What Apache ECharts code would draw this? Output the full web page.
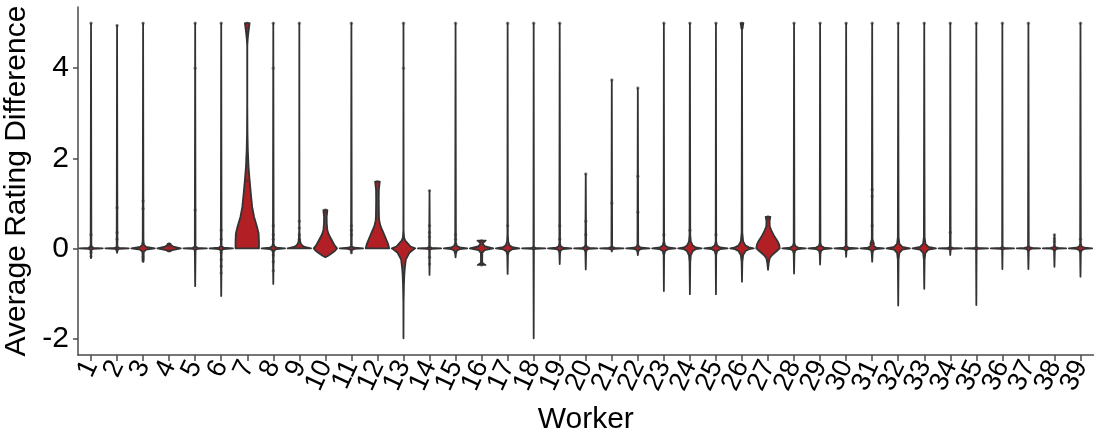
<!DOCTYPE html>
<html>
<head>
<meta charset="utf-8">
<script src="https://cdn.jsdelivr.net/npm/echarts@6/dist/echarts.min.js"></script>
<style>
  html, body { margin: 0; padding: 0; background: #fff; }
  #chart { width: 1095px; height: 433px; }
</style>
</head>
<body>
<div id="chart"></div>
<script>
// Worker ids shown on the x axis
const workers = ['1','2','3','4','5','6','7','8','9','10','11','12','13','14','15','16','17','18','19','20',
                 '21','22','23','24','25','26','27','28','29','30','31','32','33','34','35','36','37','38','39'];

// Y axis tick values
const yTicks = [-2, 0, 2, 4];

// Violin outlines per worker: [rating difference, relative density (1 = widest)], from min to max
const violinProfiles = [
  [[-0.22,0],[-0.04,0.03],[-0.01,0.2],[0,1],[0.01,0.2],[0.04,0.03],[5,0]],
  [[-0.1,0],[-0.03,0.03],[-0.01,0.2],[0,1],[0.01,0.2],[0.03,0.03],[4.95,0]],
  [[-0.3,0],[-0.2,0.04],[-0.08,0.06],[-0.03,0.25],[0,1],[0.03,0.25],[0.08,0.06],[0.2,0.03],[5,0]],
  [[-0.07,0.05],[-0.04,0.25],[0,1],[0.04,0.35],[0.07,0.15],[0.1,0.12]],
  [[-0.84,0],[-0.04,0.03],[-0.01,0.2],[0,1],[0.01,0.2],[0.04,0.03],[5,0]],
  [[-1.06,0],[-0.05,0.03],[-0.015,0.2],[0,1],[0.015,0.2],[0.05,0.03],[5,0]],
  [[0,1],[0.15,1],[0.33,0.97],[0.48,0.83],[0.7,0.58],[0.92,0.42],[1.23,0.3],[1.52,0.2],[1.81,0.11],[2.18,0.05],[2.56,0.02],[3.2,0.005],[4.5,0.005],[4.65,0.04],[4.8,0.1],[5,0.2]],
  [[-0.79,0],[-0.1,0.03],[-0.04,0.1],[-0.015,0.3],[0,1],[0.015,0.3],[0.04,0.1],[0.1,0.03],[5,0]],
  [[0,1],[0.03,0.45],[0.07,0.22],[0.12,0.1],[0.2,0.04],[0.4,0.01],[5,0]],
  [[-0.2,0],[-0.17,0.2],[-0.11,0.55],[-0.05,0.85],[0,1],[0.06,0.8],[0.18,0.55],[0.3,0.3],[0.4,0.17],[0.55,0.12],[0.7,0.11],[0.8,0.15],[0.85,0.17]],
  [[-0.1,0],[-0.04,0.03],[-0.012,0.25],[0,1],[0.012,0.25],[0.04,0.03],[5,0]],
  [[0,1],[0.1,0.9],[0.19,0.76],[0.33,0.53],[0.48,0.28],[0.6,0.16],[0.7,0.13],[1.07,0.11],[1.3,0.12],[1.4,0.16],[1.48,0.2]],
  [[-2.0,0],[-1.2,0.01],[-0.8,0.04],[-0.6,0.07],[-0.45,0.11],[-0.25,0.2],[-0.1,0.5],[-0.03,0.85],[0,1],[0.04,0.6],[0.1,0.4],[0.17,0.15],[0.24,0.05],[0.4,0.01],[5,0]],
  [[-0.59,0],[-0.03,0.03],[-0.01,0.2],[0,1],[0.01,0.2],[0.03,0.03],[1.28,0]],
  [[-0.2,0],[-0.12,0.03],[-0.05,0.12],[-0.02,0.35],[0,1],[0.02,0.35],[0.05,0.12],[0.12,0.03],[5,0]],
  [[-0.37,0.33],[-0.34,0.12],[-0.3,0.05],[-0.1,0.06],[-0.04,0.25],[0,1],[0.04,0.3],[0.09,0.1],[0.13,0.15],[0.17,0.35]],
  [[-0.57,0],[-0.15,0.03],[-0.07,0.1],[-0.025,0.35],[0,1],[0.025,0.4],[0.07,0.15],[0.15,0.05],[0.3,0.02],[5,0]],
  [[-2.0,0],[-0.03,0.02],[-0.01,0.15],[0,1],[0.01,0.15],[0.03,0.02],[5,0]],
  [[-0.35,0],[-0.1,0.03],[-0.04,0.1],[-0.015,0.3],[0,1],[0.015,0.3],[0.04,0.1],[0.1,0.03],[5,0]],
  [[-0.47,0],[-0.08,0.03],[-0.03,0.1],[-0.01,0.3],[0,1],[0.01,0.3],[0.03,0.1],[0.08,0.03],[1.65,0]],
  [[-0.07,0],[-0.03,0.03],[-0.01,0.25],[0,1],[0.01,0.25],[0.03,0.03],[3.74,0]],
  [[-0.15,0],[-0.08,0.03],[-0.03,0.12],[-0.012,0.35],[0,1],[0.012,0.35],[0.03,0.12],[0.08,0.03],[3.56,0]],
  [[-0.95,0],[-0.15,0.02],[-0.06,0.1],[-0.02,0.35],[0,1],[0.02,0.35],[0.06,0.1],[0.15,0.02],[5,0]],
  [[-1.02,0],[-0.3,0.03],[-0.15,0.08],[-0.06,0.25],[-0.02,0.5],[0,1],[0.02,0.5],[0.06,0.25],[0.15,0.08],[0.3,0.03],[5,0]],
  [[-1.02,0],[-0.15,0.02],[-0.06,0.1],[-0.02,0.35],[0,1],[0.02,0.35],[0.06,0.1],[0.15,0.02],[5,0]],
  [[-0.74,0],[-0.3,0.03],[-0.15,0.1],[-0.06,0.3],[-0.02,0.6],[0,1],[0.02,0.6],[0.06,0.3],[0.15,0.1],[0.35,0.03],[4.85,0],[5,0.12]],
  [[-0.48,0],[-0.33,0.06],[-0.22,0.14],[-0.15,0.35],[-0.07,0.7],[0,1],[0.08,0.95],[0.15,0.83],[0.26,0.55],[0.4,0.28],[0.48,0.15],[0.6,0.13],[0.66,0.17],[0.7,0.2]],
  [[-0.56,0],[-0.12,0.03],[-0.05,0.1],[-0.015,0.35],[0,1],[0.015,0.35],[0.05,0.1],[0.12,0.03],[5,0]],
  [[-0.36,0],[-0.12,0.03],[-0.05,0.1],[-0.015,0.35],[0,1],[0.015,0.35],[0.05,0.1],[0.12,0.03],[5,0]],
  [[-0.19,0],[-0.05,0.03],[-0.015,0.2],[0,1],[0.015,0.2],[0.05,0.03],[5,0]],
  [[-0.3,0],[-0.1,0.04],[-0.04,0.1],[-0.015,0.35],[0,1],[0.015,0.35],[0.05,0.12],[0.1,0.15],[0.14,0.1],[0.2,0.03],[5,0]],
  [[-1.27,0],[-0.25,0.03],[-0.1,0.1],[-0.03,0.35],[0,1],[0.03,0.35],[0.1,0.1],[0.25,0.03],[5,0]],
  [[-0.9,0],[-0.25,0.03],[-0.1,0.1],[-0.03,0.35],[0,1],[0.03,0.35],[0.1,0.1],[0.25,0.03],[5,0]],
  [[-0.15,0],[-0.03,0.03],[-0.01,0.2],[0,1],[0.01,0.2],[0.03,0.03],[5,0]],
  [[-1.26,0],[-0.03,0.02],[-0.01,0.15],[0,1],[0.01,0.15],[0.03,0.02],[5,0]],
  [[-0.46,0],[-0.03,0.02],[-0.01,0.15],[0,1],[0.01,0.15],[0.03,0.02],[5,0]],
  [[-0.46,0],[-0.06,0.03],[-0.02,0.12],[-0.008,0.35],[0,1],[0.008,0.35],[0.02,0.12],[0.06,0.03],[5,0]],
  [[-0.41,0],[-0.06,0.03],[-0.02,0.12],[-0.008,0.35],[0,1],[0.008,0.35],[0.02,0.12],[0.06,0.03],[0.3,0]],
  [[-0.63,0],[-0.1,0.03],[-0.04,0.1],[-0.012,0.35],[0,1],[0.012,0.35],[0.04,0.1],[0.1,0.03],[5,0]]
];

// Individual observations drawn as small dots over each violin
const pointValues = [
  [5, 0.3, 0.05, -0.1, -0.18],
  [4.95, 0.9, 0.35, 0.2, -0.05],
  [5, 1.05, 0.88, 0.1, -0.2, -0.25, -0.28],
  [0.1, 0.05, -0.05],
  [5, 4.0, 0.85],
  [5, 0.4, 0.2, -0.1, -0.25, -0.4, -0.55],
  [5, 4.9, 4.8, 2.0, 1.5],
  [5, 4.0, 0.5, 0.3, 0.2, -0.15, -0.3, -0.5],
  [5, 0.6, 0.45, 0.3, 0.2],
  [0.85, 0.8],
  [5, 0.5, 0.4, 0.3, -0.1],
  [1.48],
  [5, 4.0],
  [1.28, 0.5, 0.35, 0.25, -0.2, -0.35],
  [5, 0.3, 0.2],
  [0.17, -0.37],
  [5, 0.5],
  [5],
  [5, 0.5, 0.2],
  [1.65, 0.6, 0.3],
  [3.74, 1.0],
  [3.56, 1.6, 0.8],
  [5, 0.3],
  [5, 0.4],
  [5, 0.3],
  [5, 4.9],
  [0.7, 0.65],
  [5],
  [5],
  [5],
  [5, 1.3, 1.15, 0.5, 0.12],
  [5],
  [5],
  [5, 0.35],
  [5],
  [5],
  [5],
  [0.3, 0.22, 0.15],
  [5, 0.2]
];

const violinData = violinProfiles.map((prof, i) => [i, prof[0][0], prof[prof.length - 1][0]]);
const pointData = [];
pointValues.forEach((vals, i) => vals.forEach(v => pointData.push([i, v])));

function renderViolin(params, api) {
  const i = api.value(0);
  const prof = violinProfiles[i];
  const half = api.size([1, 0])[0] * 0.45;
  const right = [];
  const left = [];
  prof.forEach(([v, d]) => {
    const p = api.coord([i, v]);
    right.push([p[0] + d * half, p[1]]);
    left.unshift([p[0] - d * half, p[1]]);
  });
  return {
    type: 'polygon',
    shape: { points: right.concat(left) },
    style: { fill: '#b22025', stroke: '#333333', lineWidth: 1.8, lineJoin: 'round' }
  };
}

const chart = echarts.init(document.getElementById('chart'), null, { renderer: 'canvas' });
const FONT = 'Liberation Sans, Arial, Helvetica, sans-serif';

chart.setOption({
  animation: false,
  backgroundColor: '#ffffff',
  textStyle: { fontFamily: FONT },
  grid: { left: 78, right: 1.5, top: 7, bottom: 78, containLabel: false, outerBoundsMode: 'none' },
  xAxis: {
    type: 'category',
    data: workers,
    boundaryGap: true,
    name: 'Worker',
    nameLocation: 'middle',
    nameGap: 50,
    nameTextStyle: { fontSize: 30, color: '#000', fontFamily: FONT },
    axisLine: { show: true, onZero: false, lineStyle: { color: '#4a4a4a', width: 1.5 } },
    axisTick: { show: true, alignWithLabel: true, interval: 0, length: 6, lineStyle: { color: '#4a4a4a', width: 1.5 } },
    axisLabel: {
      interval: 0,
      rotate: 65,
      margin: 7,
      fontSize: 27,
      color: '#000',
      fontFamily: FONT
    },
    splitLine: { show: false }
  },
  yAxis: {
    type: 'value',
    min: -2.37,
    max: 5.36,
    name: 'Average Rating Difference',
    nameLocation: 'middle',
    nameGap: 44,
    nameTextStyle: { fontSize: 30, color: '#000', fontFamily: FONT },
    axisLine: { show: true, onZero: false, lineStyle: { color: '#4a4a4a', width: 1.5 } },
    axisTick: { show: true, length: 5, customValues: yTicks, lineStyle: { color: '#4a4a4a', width: 1.5 } },
    axisLabel: { customValues: yTicks, showMinLabel: true, showMaxLabel: true, margin: 9, fontSize: 30, color: '#000', fontFamily: FONT },
    splitLine: { show: false }
  },
  series: [
    {
      type: 'custom',
      renderItem: renderViolin,
      data: violinData,
      encode: { x: 0, y: [1, 2] },
      z: 2
    },
    {
      type: 'scatter',
      data: pointData,
      symbol: 'circle',
      symbolSize: 3.5,
      itemStyle: { color: 'rgba(50,50,50,0.6)' },
      silent: true,
      z: 3
    }
  ]
});
</script>
</body>
</html>
